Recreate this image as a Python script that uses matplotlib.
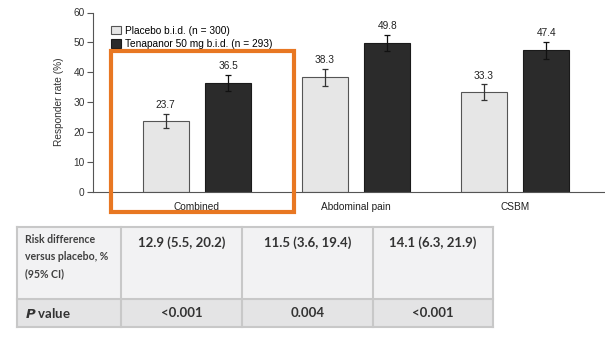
import matplotlib.pyplot as plt
import numpy as np
from matplotlib.patches import Rectangle

plt.rcParams['font.family'] = ['Liberation Sans', 'DejaVu Sans']

categories = ['Combined', 'Abdominal pain', 'CSBM']
placebo = [23.7, 38.3, 33.3]
placebo_err = [2.4, 2.8, 2.7]
tenapanor = [36.5, 49.8, 47.4]
tenapanor_err = [2.6, 2.8, 2.9]
labels = ['Placebo b.i.d. (n = 300)', 'Tenapanor 50 mg b.i.d. (n = 293)']
y_ticks = [0, 10, 20, 30, 40, 50, 60]

risk_diff = ['12.9 (5.5, 20.2)', '11.5 (3.6, 19.4)', '14.1 (6.3, 21.9)']
p_values = ['<0.001', '0.004', '<0.001']

W, H = 605, 356
fig = plt.figure(figsize=(W / 100, H / 100), dpi=100)

# bar chart axes, placed in pixel terms
ax = fig.add_axes([93 / W, (H - 192) / H, (W - 93) / W, (192 - 12.5) / H])
x = np.arange(len(categories))
width = 0.29
off = 0.197
ax.bar(x - off, placebo, width, color='#e6e6e6', edgecolor='#555555', linewidth=0.8,
       label=labels[0])
ax.bar(x + off, tenapanor, width, color='#2b2b2b', edgecolor='#1a1a1a', linewidth=0.8,
       label=labels[1])
ax.errorbar(x - off, placebo, yerr=placebo_err, fmt='none', ecolor='#333333',
            elinewidth=0.9, capsize=2, capthick=0.9)
ax.errorbar(x + off, tenapanor, yerr=tenapanor_err, fmt='none', ecolor='#111111',
            elinewidth=0.9, capsize=2, capthick=0.9)
for xi, v, e in zip(x - off, placebo, placebo_err):
    ax.text(xi, v + e + 1.2, f'{v:.1f}', ha='center', va='bottom', fontsize=7.3, color='#222222')
for xi, v, e in zip(x + off, tenapanor, tenapanor_err):
    ax.text(xi, v + e + 1.2, f'{v:.1f}', ha='center', va='bottom', fontsize=7.3, color='#222222')

ax.set_xlim(-0.654, 2.566)
ax.set_ylim(0, 60)
ax.set_yticks(y_ticks)
ax.set_xticks(x)
ax.set_xticklabels(categories, fontsize=7.3, color='#222222')
ax.tick_params(axis='x', length=0, pad=7)
ax.tick_params(axis='y', length=4, width=0.8, color='#555555', labelsize=7.3,
               labelcolor='#333333', pad=2)
ax.set_ylabel('Responder rate (%)', fontsize=7.3, color='#333333', labelpad=7)
for s in ['top', 'right']:
    ax.spines[s].set_visible(False)
for s in ['left', 'bottom']:
    ax.spines[s].set_color('#555555')
    ax.spines[s].set_linewidth(0.8)
ax.legend(loc='upper left', bbox_to_anchor=(0.028, 0.95), frameon=False, fontsize=7.3,
          handlelength=0.9, handleheight=0.9, handletextpad=0.4, labelspacing=0.35,
          borderaxespad=0)

# overlay in pixel coords for the highlight box and the table
ov = fig.add_axes([0, 0, 1, 1], facecolor='none')
ov.set_xlim(0, W)
ov.set_ylim(H, 0)
ov.axis('off')
ov.add_patch(Rectangle((111, 51), 183, 161, fill=False, edgecolor='#e87722', linewidth=3))

col_edges = [17, 121, 242, 373, 493]
row_edges = [227, 299, 327]
ov.add_patch(Rectangle((col_edges[0], row_edges[0]), col_edges[-1] - col_edges[0],
                       row_edges[1] - row_edges[0], facecolor='#f2f2f3', edgecolor='none'))
ov.add_patch(Rectangle((col_edges[0], row_edges[1]), col_edges[-1] - col_edges[0],
                       row_edges[2] - row_edges[1], facecolor='#e4e4e5', edgecolor='none'))
for cx in col_edges:
    ov.plot([cx, cx], [row_edges[0], row_edges[-1]], color='#c8c8c8', lw=1.5)
for ry in row_edges:
    ov.plot([col_edges[0], col_edges[-1]], [ry, ry], color='#c8c8c8', lw=1.5)

tfont = ['Lato', 'DejaVu Sans']
ov.text(25, 234, 'Risk difference\nversus placebo, %\n(95% CI)', ha='left', va='top',
        fontsize=7.6, fontweight='bold', family=tfont, color='#404040', linespacing=1.65)
ov.text(25, 313, r'$\bfit{P}$ value', ha='left', va='center', fontsize=9.5,
        fontweight='bold', family=tfont, color='#333333')
for i in range(3):
    cx = (col_edges[i + 1] + col_edges[i + 2]) / 2
    ov.text(cx, 243, risk_diff[i], ha='center', va='center', fontsize=9.5,
            fontweight='bold', family=tfont, color='#333333')
    ov.text(cx, 313, p_values[i], ha='center', va='center', fontsize=9.5,
            fontweight='bold', family=tfont, color='#333333')

fig.savefig('out.png', dpi=100)
